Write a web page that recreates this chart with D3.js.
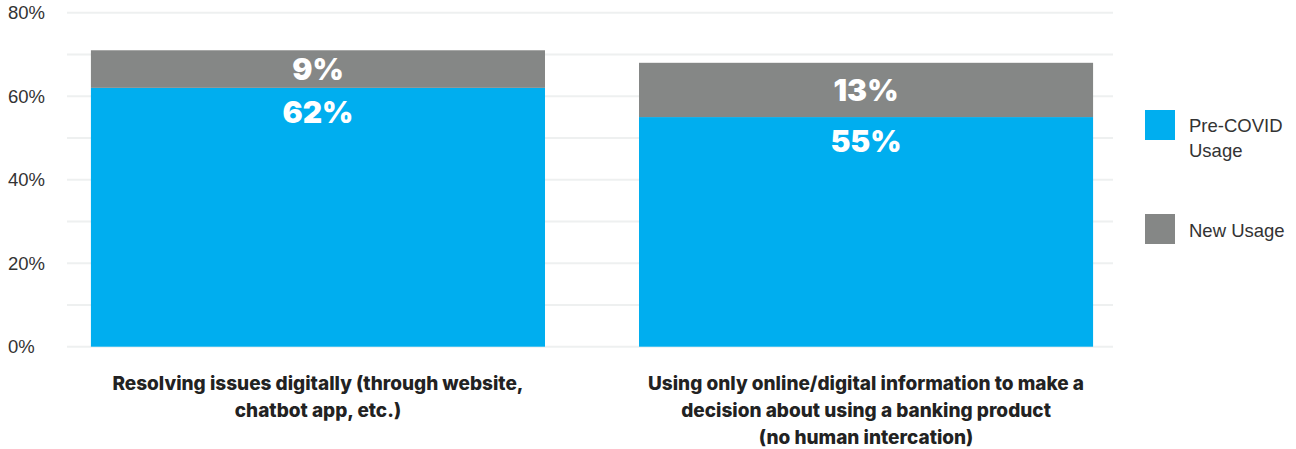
<!DOCTYPE html>
<html><head><meta charset="utf-8">
<script src="https://cdn.jsdelivr.net/npm/d3@7"></script>
<style>body{margin:0;background:#fff;}svg{display:block;}</style>
</head><body>
<svg id="chart" width="1296" height="449"></svg>
<script>
const categories = [
  ["Resolving issues digitally (through website,", "chatbot app, etc.)"],
  ["Using only online/digital information to make a", "decision about using a banking product", "(no human intercation)"]
];
const preCovid = [62, 55];
const newUsage = [9, 13];
const seriesNames = ["Pre-COVID Usage", "New Usage"];
const legendLines = [["Pre-COVID", "Usage"], ["New Usage"]];
const yTicks = [0, 20, 40, 60, 80];
const gridTicks = [0, 10, 20, 30, 40, 50, 60, 70, 80];
const colors = ["#00aeef", "#858786"];

const svg = d3.select("#chart");
const ids = d3.range(categories.length);
const x = d3.scaleBand().domain(ids).range([69, 1115]).paddingInner(0.1715).paddingOuter(0.04);
const y = d3.scaleLinear().domain([0, 80]).range([346.7, 12.7]);

// grid
svg.append("g").selectAll("line").data(gridTicks).join("line")
  .attr("x1", 67).attr("x2", 1113)
  .attr("y1", d => y(d)).attr("y2", d => y(d))
  .attr("stroke", "#eef0f0").attr("stroke-width", 2);

// y labels
svg.append("g").selectAll("text").data(yTicks).join("text")
  .attr("x", 8).attr("y", d => y(d) + 6.5)
  .attr("font-family", "'Liberation Sans', Arial, sans-serif")
  .attr("font-size", 18.5).attr("fill", "#333")
  .text(d => d + "%");

const stack = ids.map(i => [
  {s: 0, y0: 0, y1: preCovid[i], v: preCovid[i], i},
  {s: 1, y0: preCovid[i], y1: preCovid[i] + newUsage[i], v: newUsage[i], i}
]).flat();

svg.append("g").selectAll("rect").data(stack).join("rect")
  .attr("x", d => x(d.i)).attr("width", x.bandwidth())
  .attr("y", d => y(d.y1)).attr("height", d => y(d.y0) - y(d.y1))
  .attr("fill", d => colors[d.s]);

svg.append("g").selectAll("text").data(stack).join("text")
  .attr("x", d => x(d.i) + x.bandwidth() / 2)
  .attr("y", d => d.s === 1 ? (y(d.y1) + y(d.y0)) / 2 + 11 : y(d.y1) + 35)
  .attr("text-anchor", "middle")
  .attr("font-family", "Inter, 'Open Sans', sans-serif")
  .attr("font-weight", 900).attr("font-size", 30).attr("fill", "#fff")
  .text(d => d.v + "%");

// category labels
const cat = svg.append("g").selectAll("text").data(ids).join("text")
  .attr("text-anchor", "middle")
  .attr("font-family", "Inter, 'Open Sans', sans-serif")
  .attr("font-weight", 800).attr("font-size", 19).attr("fill", "#222");
cat.each(function(i) {
  d3.select(this).selectAll("tspan").data(categories[i]).join("tspan")
    .attr("x", x(i) + x.bandwidth() / 2)
    .attr("y", (d, k) => 390 + k * 27)
    .text(d => d);
});

// legend
const leg = svg.append("g");
const legY = [110, 214];
seriesNames.forEach((n, k) => {
  leg.append("rect").attr("x", 1145).attr("y", legY[k]).attr("width", 30).attr("height", 30).attr("fill", colors[k]);
  leg.append("text").attr("font-family", "'Liberation Sans', Arial, sans-serif")
    .attr("font-size", 18.5).attr("fill", "#333")
    .selectAll("tspan").data(legendLines[k]).join("tspan")
    .attr("x", 1189).attr("y", (d, j) => legY[k] + 22 + (k === 0 ? j * 25 : 1))
    .text(d => d);
});
</script>
</body></html>
